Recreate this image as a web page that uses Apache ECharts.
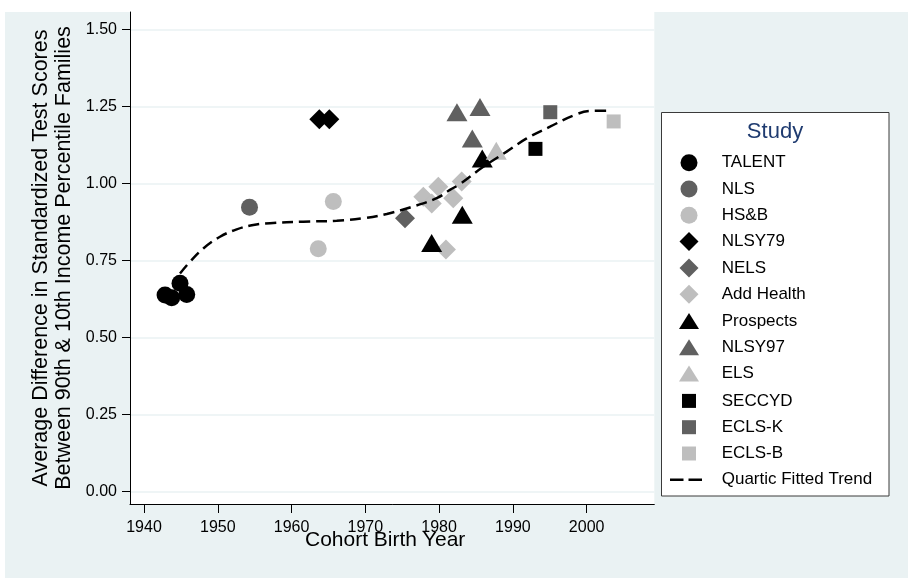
<!DOCTYPE html>
<html>
<head>
<meta charset="utf-8">
<script src="https://cdn.jsdelivr.net/npm/echarts@6/dist/echarts.min.js"></script>
<style>
  html, body { margin: 0; padding: 0; background: #ffffff; }
  #chart { width: 908px; height: 578px; }
</style>
</head>
<body>
<div id="chart"></div>
<script>
// Study cohorts: [birth year, 90/10 income gap in SD units]
const talent    = [[1942.85, 0.638], [1943.75, 0.629], [1944.88, 0.676], [1945.79, 0.640]];
const nls       = [[1954.3, 0.923]];
const hsb       = [[1963.62, 0.788], [1965.66, 0.941]];
const nlsy79    = [[1963.76, 1.208], [1965.12, 1.208]];
const nels      = [[1975.38, 0.887]];
const addHealth = [[1977.86, 0.957], [1979.0, 0.935], [1979.89, 0.989], [1980.93, 0.786], [1981.92, 0.952], [1983.06, 1.006]];
const prospects = [[1978.99, 0.807], [1983.14, 0.898], [1985.85, 1.081]];
const nlsy97    = [[1982.42, 1.231], [1984.5, 1.146], [1985.54, 1.248]];
const els       = [[1987.75, 1.106]];
const seccyd    = [[1993.06, 1.112]];
const eclsK     = [[1995.07, 1.231]];
const eclsB     = [[2003.66, 1.201]];

// Quartic fitted trend, sampled along the curve
const trend = [
  [1944.88, 0.708], [1946.23, 0.746], [1948.04, 0.789], [1950.3, 0.827], [1952.56, 0.851],
  [1954.81, 0.865], [1957.08, 0.871], [1961.59, 0.876], [1966.12, 0.879], [1969.72, 0.887],
  [1972.9, 0.901], [1976.05, 0.922], [1979.67, 0.952], [1981.47, 0.979], [1982.83, 0.998],
  [1985.99, 1.054], [1989.16, 1.103], [1991.87, 1.146], [1995.03, 1.184], [1998.19, 1.220],
  [2000.45, 1.235], [2003.16, 1.236]
];

const xTicks = [1940, 1950, 1960, 1970, 1980, 1990, 2000];
const yTicks = [0, 0.25, 0.5, 0.75, 1.0, 1.25, 1.5];

const studyNames = ['TALENT', 'NLS', 'HS&B', 'NLSY79', 'NELS', 'Add Health',
                    'Prospects', 'NLSY97', 'ELS', 'SECCYD', 'ECLS-K', 'ECLS-B'];
const studyData = [talent, nls, hsb, nlsy79, nels, addHealth,
                   prospects, nlsy97, els, seccyd, eclsK, eclsB];
const trendName = 'Quartic Fitted Trend';

// Marker styling: three grey levels per marker shape
const BLACK = '#000000', DARK = '#606060', LIGHT = '#bebebe';
const shapeGroups = [
  { symbol: 'circle',   size: 17,       icon: [17, 17] },
  { symbol: 'diamond',  size: 20,       icon: [19, 19] },
  { symbol: 'triangle', size: [21, 18], icon: [20, 16] },
  { symbol: 'rect',     size: 14,       icon: [14, 14] }
];
const tones = [BLACK, DARK, LIGHT];

const FONT = '"Liberation Sans", Arial, Helvetica, sans-serif';

const series = studyNames.map((name, i) => {
  const g = shapeGroups[Math.floor(i / 3)];
  return {
    name: name,
    type: 'scatter',
    data: studyData[i],
    symbol: g.symbol,
    symbolSize: g.size,
    itemStyle: { color: tones[i % 3], opacity: 1 },
    z: 2
  };
});
series.push({
  name: trendName,
  type: 'line',
  data: trend,
  smooth: 0.4,
  symbol: 'none',
  lineStyle: { color: '#000000', width: 2.5, type: [11, 6] },
  itemStyle: { color: '#000000' },
  z: 3
});

// Legend: one block per marker shape so each icon keeps its own size
const ROW = 26.3, FIRST_ROW = 162.7, ICON_X = 689, TEXT_X = 721.7, TEXT_H = 17;
function legendBlock(names, firstIndex, w, h, left) {
  const x = left === undefined ? ICON_X - w / 2 : left;
  return {
    orient: 'vertical',
    left: x,
    top: FIRST_ROW + firstIndex * ROW - h / 2,
    itemWidth: w, itemHeight: h, itemGap: ROW - Math.max(h, TEXT_H),
    padding: 0,
    selectedMode: false,
    textStyle: { fontSize: 17, color: '#000', fontFamily: FONT, lineHeight: 14,
                 padding: [0, 0, 0, TEXT_X - (x + w) - 5] },
    data: names
  };
}
const legends = shapeGroups.map((g, k) =>
  legendBlock(studyNames.slice(k * 3, k * 3 + 3), k * 3, g.icon[0], g.icon[1]));
// dashed key for the fitted trend
legends.push(legendBlock([{
  name: trendName,
  icon: 'path://M0,0H13.5V2.5H0Z M18.5,0H32V2.5H18.5Z',
  itemStyle: { color: '#000' }
}], 12, 32, 14, 670));

const chart = echarts.init(document.getElementById('chart'), null, { renderer: 'canvas' });
chart.setOption({
  animation: false,
  backgroundColor: '#ffffff',
  textStyle: { fontFamily: FONT },
  grid: {
    left: 130, top: 12, width: 524.3, height: 492,
    show: true, backgroundColor: '#ffffff', borderWidth: 0
  },
  xAxis: {
    type: 'value',
    min: 1938.1, max: 2009.17,
    name: 'Cohort Birth Year',
    nameLocation: 'middle',
    nameGap: 26,
    nameMoveOverlap: false,
    nameTextStyle: { fontSize: 21, color: '#000', fontFamily: FONT, padding: [0, 14, 0, 0] },
    axisLine: { show: true, onZero: false, lineStyle: { color: '#000', width: 1 } },
    axisTick: { show: true, length: 9, customValues: xTicks, lineStyle: { color: '#000', width: 1 } },
    axisLabel: { customValues: xTicks, fontSize: 16, margin: 16, color: '#000', fontFamily: FONT,
                 formatter: v => String(v) },
    splitLine: { show: false }
  },
  yAxis: {
    type: 'value',
    min: -0.0399, max: 1.556,
    name: 'Average Difference in Standardized Test Scores\nBetween 90th & 10th Income Percentile Families',
    nameLocation: 'middle',
    nameGap: 54,
    nameMoveOverlap: false,
    nameTextStyle: { fontSize: 21.5, color: '#000', fontFamily: FONT, lineHeight: 23 },
    axisLine: { show: true, onZero: false, lineStyle: { color: '#000', width: 1 } },
    axisTick: { show: true, length: 8, customValues: yTicks, lineStyle: { color: '#000', width: 1 } },
    axisLabel: { customValues: yTicks, fontSize: 16, margin: 13, color: '#000', fontFamily: FONT,
                 formatter: v => v.toFixed(2) },
    splitLine: { show: true, lineStyle: { color: '#eaf2f3', width: 1.5 } }
  },
  legend: legends,
  graphic: [
    {
      type: 'rect', z: -10, silent: true,
      shape: { x: 5, y: 12, width: 903, height: 566 },
      style: { fill: '#eaf2f3' }
    },
    {
      type: 'rect', z: 1, silent: true,
      shape: { x: 661.5, y: 112.5, width: 227.5, height: 383.5 },
      style: { fill: '#ffffff', stroke: '#3a3a3a', lineWidth: 1 }
    },
    {
      type: 'text', z: 5, silent: true,
      style: { text: 'Study', x: 775, y: 132, align: 'center', verticalAlign: 'middle',
               font: '22px ' + FONT, fill: '#1f3b70' }
    }
  ],
  series: series
});
</script>
</body>
</html>
